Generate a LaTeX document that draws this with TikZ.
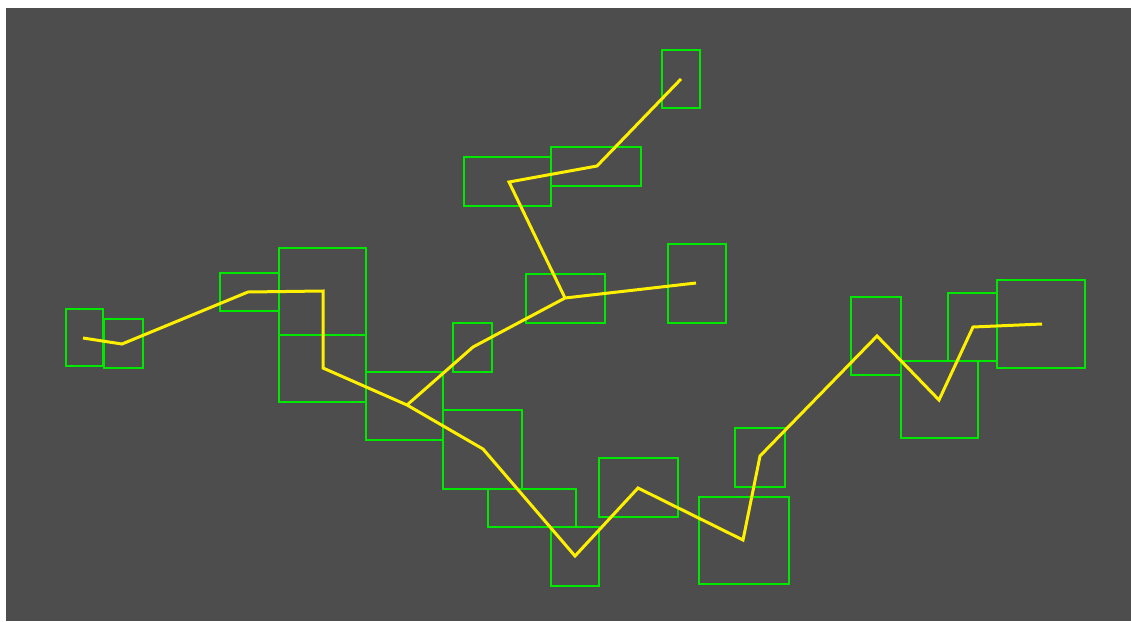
\documentclass[tikz,border=0pt]{standalone}
\definecolor{bg}{HTML}{4D4D4D}
\definecolor{boxgreen}{RGB}{0,232,0}
\definecolor{trail}{RGB}{255,240,0}
\begin{document}
\begin{tikzpicture}[x=1pt,y=-1pt,
  region/.style={draw=boxgreen,line width=1.4pt},
  trailline/.style={draw=trail,line width=3pt,line join=miter,line cap=butt}]
\useasboundingbox (0,0) rectangle (1131,621);
\fill[white] (0,0) rectangle (1131,621);
\fill[bg] (6,8) rectangle (1131,621);
% boxes
\draw[region] (66,309) rectangle (103,366);
\draw[region] (104,319) rectangle (143,368);
\draw[region] (220,273) rectangle (279,311);
\draw[region] (279,248) rectangle (366,335);
\draw[region] (279,335) rectangle (366,402);
\draw[region] (366,372) rectangle (443,440);
\draw[region] (662,50) rectangle (700,108);
\draw[region] (551,147) rectangle (641,186);
\draw[region] (464,157) rectangle (551,206);
\draw[region] (526,274) rectangle (605,323);
\draw[region] (668,244) rectangle (726,323);
\draw[region] (453,323) rectangle (492,372);
\draw[region] (443,410) rectangle (522,489);
\draw[region] (488,489) rectangle (576,527);
\draw[region] (551,527) rectangle (599,586);
\draw[region] (599,458) rectangle (678,517);
\draw[region] (699,497) rectangle (789,584);
\draw[region] (735,428) rectangle (785,487);
\draw[region] (851,297) rectangle (901,375);
\draw[region] (901,361) rectangle (978,438);
\draw[region] (948,293) rectangle (997,361);
\draw[region] (997,280) rectangle (1085,368);
% path vertices
\coordinate (p1) at (83,338);
\coordinate (p2) at (122,344);
\coordinate (p3) at (248,292);
\coordinate (p4) at (323,291);
\coordinate (p5) at (323,368);
\coordinate (j1) at (407,405);
\coordinate (p7) at (483,449);
\coordinate (p8) at (575,556);
\coordinate (p9) at (638,488);
\coordinate (p10) at (743,540);
\coordinate (p11) at (760,456);
\coordinate (p12) at (877,336);
\coordinate (p13) at (939,400);
\coordinate (p14) at (973,327);
\coordinate (p15) at (1042,324);
\coordinate (b1) at (473,347);
\coordinate (j2) at (565,298);
\coordinate (b2) at (696,283);
\coordinate (b3) at (509,182);
\coordinate (b4) at (597,166);
\coordinate (b5) at (681,79);
% trails
\draw[trailline] (p1) -- (p2) -- (p3) -- (p4) -- (p5) -- (j1) -- (p7) -- (p8) -- (p9) -- (p10) -- (p11) -- (p12) -- (p13) -- (p14) -- (p15);
\draw[trailline] (j1) -- (b1) -- (j2) -- (b2);
\draw[trailline] (j2) -- (b3) -- (b4) -- (b5);
\end{tikzpicture}
\end{document}
